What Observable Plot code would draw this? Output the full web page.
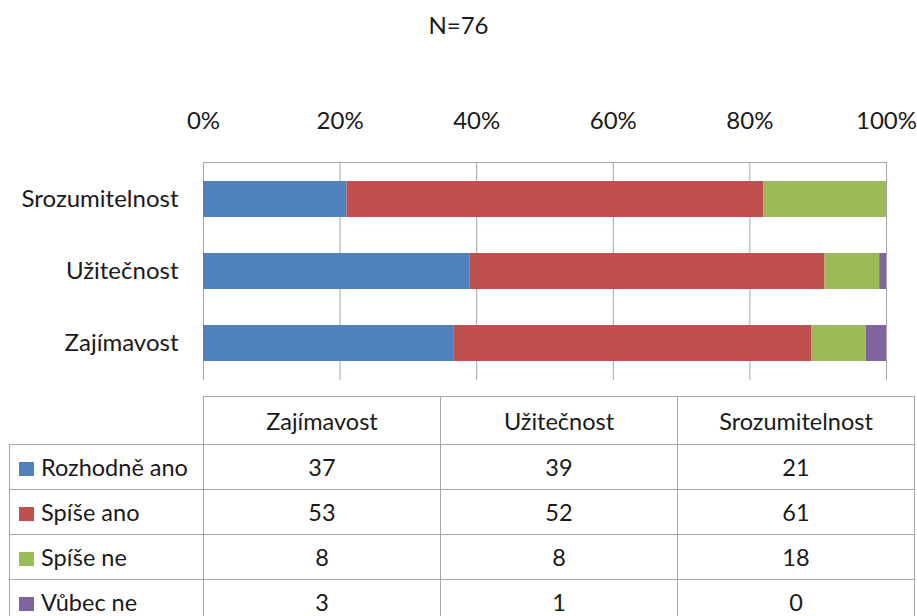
<!DOCTYPE html>
<html>
<head>
<meta charset="utf-8">
<script src="https://cdn.jsdelivr.net/npm/d3@7"></script>
<script src="https://cdn.jsdelivr.net/npm/@observablehq/plot@0.6"></script>
<style>
  html, body { margin: 0; padding: 0; background: #fff; }
  #wrap { position: relative; width: 917px; height: 616px; overflow: hidden; font-family: Lato, "Open Sans", sans-serif; color: #1a1a1a; }
  #title { position: absolute; left: 0; top: 10px; width: 917px; text-align: center; font-size: 24px; line-height: 30px; }
  #chart { position: absolute; left: 0; top: 0; }
  #tbl { position: absolute; left: 9px; top: 396px; border-collapse: collapse; table-layout: fixed; font-size: 23.5px; }
  #tbl td { border: 1px solid #a6a6a6; padding: 0; text-align: center; vertical-align: middle; height: 44px; white-space: nowrap; }
  #tbl tr.head td { height: 47px; }
  #tbl td.corner { border: none; }
  #tbl td.lab { text-align: left; padding-left: 9px; }
  #tbl .sw { display: inline-block; width: 15px; height: 14px; margin-right: 7px; vertical-align: 0px; }
</style>
</head>
<body>
<div id="wrap">
  <div id="title"></div>
  <div id="chart"></div>
  <table id="tbl"></table>
</div>
<script>
// ---- data ----
const title = "N=76";
const categories = ["Zajímavost", "Užitečnost", "Srozumitelnost"];
const responses = ["Rozhodně ano", "Spíše ano", "Spíše ne", "Vůbec ne"];
const rozhodneAno = [37, 39, 21];
const spiseAno = [53, 52, 61];
const spiseNe = [8, 8, 18];
const vubecNe = [3, 1, 0];
const colors = ["#4F81BD", "#C0504D", "#9BBB59", "#8064A2"];
const xTicks = [0, 0.2, 0.4, 0.6, 0.8, 1];

const seriesValues = [rozhodneAno, spiseAno, spiseNe, vubecNe];
const rows = [];
responses.forEach((r, i) => {
  categories.forEach((c, j) => rows.push({category: c, response: r, value: seriesValues[i][j]}));
});

document.getElementById("title").textContent = title;

const grid = "#a6a6a6";
const chart = Plot.plot({
  width: 917,
  height: 385,
  marginTop: 162,
  marginBottom: 5,
  marginLeft: 203,
  marginRight: 31,
  style: {fontFamily: "Lato, 'Open Sans', sans-serif", fontSize: "24px", color: "#1a1a1a", background: "transparent"},
  x: {domain: [0, 1], axis: null},
  y: {domain: categories.slice().reverse(), paddingInner: 0.5, paddingOuter: 0.25, label: null},
  color: {domain: responses, range: colors},
  marks: [
    Plot.ruleX(xTicks, {x: d => d, stroke: grid, strokeWidth: 1}),
    Plot.frame({anchor: "top", stroke: grid}),
    Plot.barX(rows, Plot.stackX({x: "value", y: "category", fill: "response", offset: "normalize"})),
    Plot.text(xTicks, {x: d => d, frameAnchor: "top", dy: -51, text: d => Math.round(d * 100) + "%", fontSize: 24, fill: "#1a1a1a"}),
    Plot.axisY({tickSize: 0, tickPadding: 25, fontSize: 24, label: null})
  ]
});
document.getElementById("chart").appendChild(chart);

// ---- data table ----
const tbl = d3.select("#tbl");
const cg = tbl.append("colgroup");
cg.append("col").style("width", "194px");
categories.forEach(() => cg.append("col").style("width", "237px"));
const head = tbl.append("tr").attr("class", "head");
head.append("td").attr("class", "corner");
categories.forEach(c => head.append("td").text(c));
responses.forEach((r, i) => {
  const tr = tbl.append("tr");
  const lab = tr.append("td").attr("class", "lab");
  lab.append("span").attr("class", "sw").style("background", colors[i]);
  lab.append("span").text(r);
  seriesValues[i].forEach(v => tr.append("td").text(v));
});
</script>
</body>
</html>
